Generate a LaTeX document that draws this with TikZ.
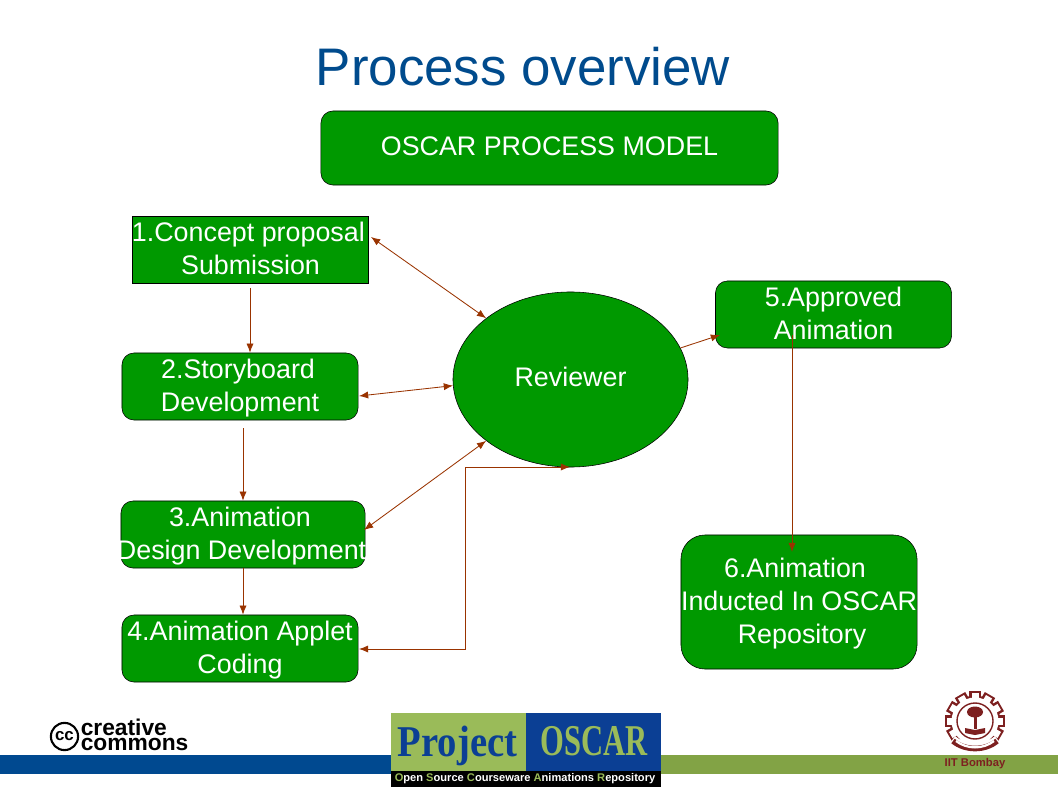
\documentclass[tikz,border=0pt]{standalone}
\usepackage{fontspec}
\setmainfont{Liberation Sans}
\usetikzlibrary{positioning, shapes.geometric, arrows.meta}
\definecolor{boxgreen}{HTML}{009900}
\definecolor{titleblue}{HTML}{004B8D}
\definecolor{linkred}{HTML}{993300}
\definecolor{barblue}{HTML}{004990}
\definecolor{bargreen}{HTML}{82A345}
\definecolor{logogreen}{HTML}{9ABB59}
\definecolor{logoblue}{HTML}{0B3F94}
\definecolor{iitred}{HTML}{7D2020}
\newcommand{\wideline}[1]{\makebox[0pt]{#1}}
\tikzset{
  stepbox/.style={draw=black, fill=boxgreen, text=white, inner sep=0pt, align=center,
    minimum width=5.9cm, minimum height=1.675cm, rounded corners=0.3cm,
    text depth=1.4pt,
    font=\fontsize{19.1}{23.5}\selectfont},
  oneline/.style={text height=14pt, text depth=4pt},
  link/.style={linkred, line width=0.6pt},
}
\begin{document}
\begin{tikzpicture}[>={Latex[length=2.3mm, width=1.8mm]}, x=0.025cm, y=-0.025cm]
  \useasboundingbox (0,0) rectangle (1058,793);
  \node (title) at (523,67) [titleblue, font=\fontsize{37.6}{40}\selectfont] {Process overview};

  \node (model) at (549.5,148) [stepbox, oneline, minimum width=11.425cm, minimum height=1.85cm] {OSCAR PROCESS MODEL};
  \node (concept) at (250.5,249.5) [stepbox, rounded corners=0pt] {\hspace*{-3pt}1.Concept proposal\\Submission};
  \node (story) at (240,386.5) [stepbox] {2.Storyboard\hspace*{2.8pt}\\Development};
  \node (design) at (243,534.5) [stepbox, minimum width=6.1cm] {3.Animation\hspace*{4.3pt}\\\wideline{Design Development\hspace*{2pt}}};
  \node (coding) at (240,648.5) [stepbox] {4.Animation Applet\\Coding};
  \node (reviewer) at (570.5,379.5) [stepbox, oneline, ellipse, minimum width=5.875cm, minimum height=4.375cm] {Reviewer};
  \node (approved) at (833.5,314.5) [stepbox] {5.Approved\\Animation};
  \node (inducted) at (799,602) [stepbox, minimum height=3.35cm, rounded corners=0.6cm] {6.Animation\hspace*{5.7pt}\\\wideline{Inducted In OSCAR}\\\hspace*{4.3pt}Repository};

  \coordinate (storyfoot) at (243,428);
  \coordinate (conceptfoot) at (250,288);
  \coordinate (elbowa) at (465,649);
  \coordinate (elbowb) at (465,467);
  \coordinate (reviewerfoot) at (570,467);
  \coordinate (approvedfoot) at (792,335);
  \coordinate (inductedtop) at (792,552);
  \coordinate (approvedside) at (720,335);
  \coordinate (conceptside) at (371,237);
  \coordinate (storyside) at (359,396);
  \coordinate (designside) at (364,530);
  \coordinate (codingside) at (359,649);

  \draw [link, ->] (conceptfoot) -- (conceptfoot |- story.north);
  \draw [link, ->] (storyfoot) -- (storyfoot |- design.north);
  \draw [link, ->] (storyfoot |- design.south) -- (storyfoot |- coding.north);
  \draw [link, <->] (conceptside) -- (reviewer.144);
  \draw [link, <->] (storyside) -- (reviewer.183);
  \draw [link, <->] (designside) -- (reviewer.216);
  \draw [link, <->] (codingside) -- (elbowa) -- (elbowb) -- (reviewerfoot);
  \draw [link, ->] (reviewer.16) -- (approvedside);
  \draw [link, ->] (approvedfoot) -- (inductedtop);

  \fill [barblue] (0,755) rectangle (391,773.5);
  \fill [bargreen] (661,755) rectangle (1058,773.5);

  \node (cclogo) at (64.5,736.5) [draw=black, line width=1.5pt, circle, inner sep=0pt, minimum size=0.68cm, font=\bfseries\fontsize{12}{12}\selectfont] {cc};
  \node (cctext) at (80.5,735) [anchor=west, inner sep=0pt, align=left, font=\bfseries\fontsize{16.2}{11}\selectfont] {creative\\commons};

  \fill [logogreen] (391,712.5) rectangle (525.7,770.7);
  \fill [logoblue] (525.7,712.5) rectangle (661,770.7);
  \fill [black] (391,770.7) rectangle (661,787);
  \node (project) at (457.5,746) [logoblue, inner sep=0pt] {\fontspec{Liberation Serif}\bfseries\fontsize{25}{25}\selectfont\scalebox{1.1}[1.25]{Project}};
  \node (oscar) at (594,741) [logogreen, inner sep=0pt] {\fontspec{Liberation Serif}\bfseries\fontsize{25}{25}\selectfont\scalebox{0.87}[1.25]{OSCAR}};
  \node (tagline) at (525,779) [white, inner sep=0pt, font=\bfseries\fontsize{7.9}{9}\selectfont] {\textcolor{logogreen}{O}pen \textcolor{logogreen}{S}ource \textcolor{logogreen}{C}ourseware \textcolor{logogreen}{A}nimations \textcolor{logogreen}{R}epository};

  \foreach \a in {0,30,...,330}
    \fill [iitred, rotate around={\a:(975,721)}] (969,691) rectangle (981,702);
  \fill [iitred] (975,721) circle [radius=25.5];
  \foreach \a in {0,30,...,330}
    \fill [white, rotate around={\a:(975,721)}] (971.5,693) rectangle (978.5,702);
  \fill [white] (975,721) circle [radius=23.5];
  \draw [iitred, line width=1pt] (975,721) circle [radius=18];
  \fill [iitred] (973.5,716) rectangle (976.5,729);
  \fill [iitred] (975,712) ellipse [x radius=8, y radius=5.5];
  \fill [iitred] (965,728) -- (975,730) -- (985,728) -- (985,733) -- (975,735) -- (965,733) -- cycle;
  \draw [white, line width=5pt] (953,739) .. controls (965,749) and (985,749) .. (997,739);
  \draw [iitred, line width=4pt] (953,741) .. controls (965,751) and (985,751) .. (997,741);
  \draw [white, line width=1.6pt] (956,741) .. controls (967,749.5) and (983,749.5) .. (994,741);
  \node (iit) at (975,764) [iitred, inner sep=0pt, font=\bfseries\fontsize{8}{9}\selectfont] {IIT Bombay};
\end{tikzpicture}
\end{document}
